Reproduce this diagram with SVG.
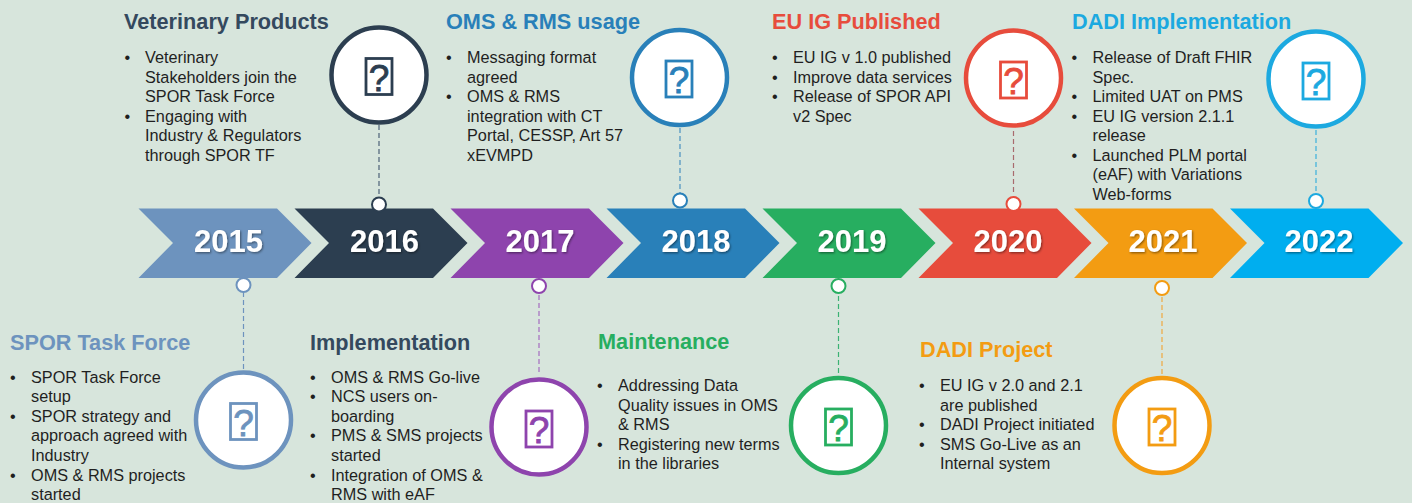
<svg xmlns="http://www.w3.org/2000/svg" width="1412" height="503" viewBox="0 0 1412 503">
<style>
text{font-family:"Liberation Sans",Arial,sans-serif}
.t{font-size:21.7px;font-weight:700}
.b{font-size:16.25px;fill:#1f1f1f}
.y{font-size:31px;font-weight:700;fill:#fff;text-anchor:middle;filter:url(#sh)}
.big{fill:#fff;stroke-width:4.5}
.dot{fill:#fff;stroke-width:2}
.ic{fill:none;stroke-width:2.8}
.q{font-size:37px;text-anchor:middle;stroke-width:.8}
.c{fill:none;stroke-width:1.2;stroke-dasharray:5 3}
</style>
<defs>
<filter id="sh" x="-20%" y="-20%" width="140%" height="140%"><feDropShadow dx="1" dy="1.2" stdDeviation="1" flood-color="#000" flood-opacity=".45"/></filter>
<path id="ch" d="M0 0H138.500L173 34.500L138.500 69.500H0L34.500 34.500Z"/>
</defs>
<rect width="1412" height="503" fill="#d7e5dc"/>
<g id="connectors">
<path class="c" stroke="#6d93be" d="M243.500 292V372"/>
<path class="c" stroke="#4d6178" d="M379 125V197"/>
<path class="c" stroke="#a56cc0" d="M539 295V374"/>
<path class="c" stroke="#4a90c0" d="M680 128V193"/>
<path class="c" stroke="#3bb273" d="M838.500 296V374"/>
<path class="c" stroke="#a86b6e" d="M1013.500 131V195"/>
<path class="c" stroke="#f0a840" d="M1162 297V375"/>
<path class="c" stroke="#3bb0dd" d="M1316 130V194"/>
</g>
<g id="y2015"><use href="#ch" x="138.500" y="208.500" fill="#6d93be"/><text class="y" x="228.500" y="252">2015</text>
<circle class="dot" cx="243.500" cy="285" r="7" stroke="#6d93be"/></g>
<g id="y2016"><use href="#ch" x="294.500" y="208.500" fill="#2c3e50"/><text class="y" x="384.500" y="252">2016</text>
<circle class="dot" cx="379" cy="204.500" r="7" stroke="#2c3e50"/></g>
<g id="y2017"><use href="#ch" x="450.500" y="208.500" fill="#8e44ad"/><text class="y" x="540" y="252">2017</text>
<circle class="dot" cx="539" cy="286" r="7" stroke="#8e44ad"/></g>
<g id="y2018"><use href="#ch" x="606.500" y="208.500" fill="#2980b9"/><text class="y" x="696" y="252">2018</text>
<circle class="dot" cx="680" cy="200.500" r="7" stroke="#2980b9"/></g>
<g id="y2019"><use href="#ch" x="762.500" y="208.500" fill="#27ae60"/><text class="y" x="852" y="252">2019</text>
<circle class="dot" cx="838.500" cy="286" r="7" stroke="#27ae60"/></g>
<g id="y2020"><use href="#ch" x="918.500" y="208.500" fill="#e74c3c"/><text class="y" x="1008" y="252">2020</text>
<circle class="dot" cx="1013.500" cy="204" r="7" stroke="#e74c3c"/></g>
<g id="y2021"><use href="#ch" x="1074" y="208.500" fill="#f39c12"/><text class="y" x="1163" y="252">2021</text>
<circle class="dot" cx="1162" cy="288" r="7" stroke="#f39c12"/></g>
<g id="y2022"><use href="#ch" x="1230" y="208.500" fill="#00aeef"/><text class="y" x="1319" y="252">2022</text>
<circle class="dot" cx="1316" cy="201" r="7" stroke="#1ca9e0"/></g>

<g id="n2015" fill="#6d93be"><text class="t" x="10" y="350">SPOR Task Force</text>
<circle class="big" cx="243.500" cy="420" r="47.500" stroke="#6d93be"/><rect class="ic" x="230.500" y="403.500" width="26" height="36" stroke="#6d93be"/><text class="q" x="243.500" y="435.500" stroke="#6d93be">?</text>
<text x="10" y="383" class="b">•</text><text x="31" y="383" class="b">SPOR Task Force</text><text x="31" y="402" class="b">setup</text>
<text x="10" y="422" class="b">•</text><text x="31" y="422" class="b">SPOR strategy and</text><text x="31" y="441" class="b">approach agreed with</text><text x="31" y="461" class="b">Industry</text>
<text x="10" y="481" class="b">•</text><text x="31" y="481" class="b">OMS &amp; RMS projects</text><text x="31" y="500" class="b">started</text></g>

<g id="n2016" fill="#34495e"><text class="t" x="124" y="29">Veterinary Products</text>
<circle class="big" cx="379" cy="75" r="47.500" stroke="#2c3e50"/><rect class="ic" x="366" y="58.500" width="26" height="36" stroke="#2c3e50"/><text class="q" x="379" y="90.500" stroke="#2c3e50" fill="#2c3e50">?</text>
<text x="124.500" y="63" class="b">•</text><text x="145" y="63" class="b">Veterinary</text><text x="145" y="83" class="b">Stakeholders join the</text><text x="145" y="102" class="b">SPOR Task Force</text>
<text x="124.500" y="122" class="b">•</text><text x="145" y="122" class="b">Engaging with</text><text x="145" y="141" class="b">Industry &amp; Regulators</text><text x="145" y="161" class="b">through SPOR TF</text></g>

<g id="n2017" fill="#34495e"><text class="t" x="310" y="349.500">Implementation</text>
<circle class="big" cx="539" cy="427" r="47.500" stroke="#8e44ad"/><rect class="ic" x="526" y="411" width="26" height="36" stroke="#8e44ad"/><text class="q" x="539" y="443" fill="#8e44ad" stroke="#8e44ad">?</text>
<text x="310" y="383" class="b">•</text><text x="331" y="383" class="b">OMS &amp; RMS Go-live</text>
<text x="310" y="402" class="b">•</text><text x="331" y="402" class="b">NCS users on-</text><text x="331" y="422" class="b">boarding</text>
<text x="310" y="441" class="b">•</text><text x="331" y="441" class="b">PMS &amp; SMS projects</text><text x="331" y="461" class="b">started</text>
<text x="310" y="481" class="b">•</text><text x="331" y="481" class="b">Integration of OMS &amp;</text><text x="331" y="500" class="b">RMS with eAF</text></g>

<g id="n2018" fill="#2980b9"><text class="t" x="446" y="29">OMS &amp; RMS usage</text>
<circle class="big" cx="679.500" cy="77.500" r="47.500" stroke="#2980b9"/><rect class="ic" x="666" y="61" width="26" height="36" stroke="#2980b9"/><text class="q" x="679" y="93" stroke="#2980b9">?</text>
<text x="446" y="63" class="b">•</text><text x="467" y="63" class="b">Messaging format</text><text x="467" y="83" class="b">agreed</text>
<text x="446" y="102" class="b">•</text><text x="467" y="102" class="b">OMS &amp; RMS</text><text x="467" y="122" class="b">integration with CT</text><text x="467" y="141" class="b">Portal, CESSP, Art 57</text><text x="467" y="161" class="b">xEVMPD</text></g>

<g id="n2019" fill="#27ae60"><text class="t" x="598" y="348.500">Maintenance</text>
<circle class="big" cx="838.500" cy="425.500" r="47.500" stroke="#27ae60"/><rect class="ic" x="825.500" y="409" width="26" height="36" stroke="#27ae60"/><text class="q" x="838.500" y="441" stroke="#27ae60">?</text>
<text x="597" y="391" class="b">•</text><text x="618" y="391" class="b">Addressing Data</text><text x="618" y="411" class="b">Quality issues in OMS</text><text x="618" y="430" class="b">&amp; RMS</text>
<text x="597" y="450" class="b">•</text><text x="618" y="450" class="b">Registering new terms</text><text x="618" y="469" class="b">in the libraries</text></g>

<g id="n2020" fill="#e74c3c"><text class="t" x="772" y="29">EU IG Published</text>
<circle class="big" cx="1013.500" cy="78" r="47.500" stroke="#e74c3c"/><rect class="ic" x="1000.500" y="62" width="26" height="36" stroke="#e74c3c"/><text class="q" x="1013.500" y="94" stroke="#e74c3c">?</text>
<text x="772" y="63" class="b">•</text><text x="793" y="63" class="b">EU IG v 1.0 published</text>
<text x="772" y="83" class="b">•</text><text x="793" y="83" class="b">Improve data services</text>
<text x="772" y="102" class="b">•</text><text x="793" y="102" class="b">Release of SPOR API</text><text x="793" y="122" class="b">v2 Spec</text></g>

<g id="n2021" fill="#f39c12"><text class="t" x="920" y="357">DADI Project</text>
<circle class="big" cx="1162" cy="425.500" r="47.500" stroke="#f39c12"/><rect class="ic" x="1149" y="409" width="26" height="36" stroke="#f39c12"/><text class="q" x="1162" y="441" stroke="#f39c12">?</text>
<text x="919" y="391" class="b">•</text><text x="940" y="391" class="b">EU IG v 2.0 and 2.1</text><text x="940" y="411" class="b">are published</text>
<text x="919" y="430" class="b">•</text><text x="940" y="430" class="b">DADI Project initiated</text>
<text x="919" y="450" class="b">•</text><text x="940" y="450" class="b">SMS Go-Live as an</text><text x="940" y="469" class="b">Internal system</text></g>

<g id="n2022" fill="#1ca9e0"><text class="t" x="1072" y="29">DADI Implementation</text>
<circle class="big" cx="1316" cy="79" r="47.500" stroke="#1ca9e0"/><rect class="ic" x="1303" y="63" width="26" height="36" stroke="#1ca9e0"/><text class="q" x="1316" y="95" stroke="#1ca9e0">?</text>
<text x="1071.500" y="63" class="b">•</text><text x="1092.500" y="63" class="b">Release of Draft FHIR</text><text x="1092.500" y="83" class="b">Spec.</text>
<text x="1071.500" y="102" class="b">•</text><text x="1092.500" y="102" class="b">Limited UAT on PMS</text>
<text x="1071.500" y="122" class="b">•</text><text x="1092.500" y="122" class="b">EU IG version 2.1.1</text><text x="1092.500" y="141" class="b">release</text>
<text x="1071.500" y="161" class="b">•</text><text x="1092.500" y="161" class="b">Launched PLM portal</text><text x="1092.500" y="180" class="b">(eAF) with Variations</text><text x="1092.500" y="200" class="b">Web-forms</text></g>
</svg>
